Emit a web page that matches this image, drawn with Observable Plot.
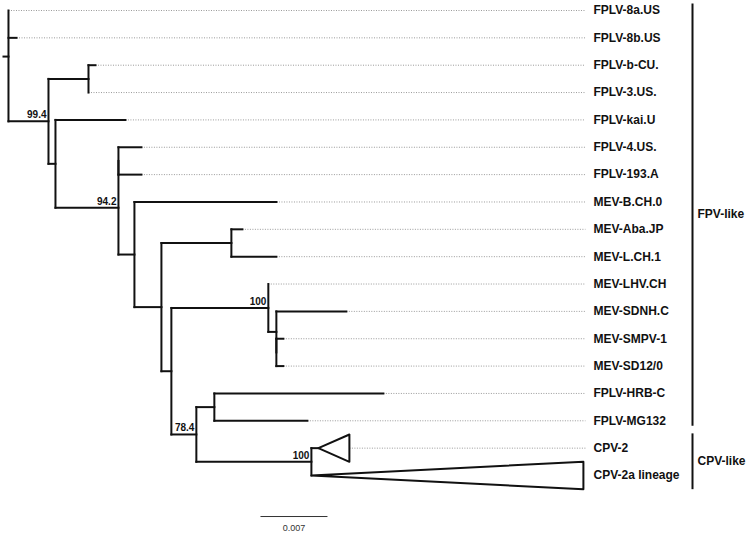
<!DOCTYPE html>
<html><head><meta charset="utf-8">
<script src="https://cdn.jsdelivr.net/npm/d3@7"></script>
<script src="https://cdn.jsdelivr.net/npm/@observablehq/plot@0.6"></script>
<style>body{margin:0;background:#fff;}</style>
</head><body><div id="chart"></div>
<script>
// Leaf order, top to bottom
const leafOrder = ["FPLV-8a.US","FPLV-8b.US","FPLV-b-CU.","FPLV-3.US.","FPLV-kai.U","FPLV-4.US.","FPLV-193.A","MEV-B.CH.0","MEV-Aba.JP","MEV-L.CH.1","MEV-LHV.CH","MEV-SDNH.C","MEV-SMPV-1","MEV-SD12/0","FPLV-HRB-C","FPLV-MG132","CPV-2","CPV-2a lineage"];
// [node, parent, branch length (substitutions/site)]
const treeEdges = [
  ["root", null, 0.00052],
  ["FPLV-8a.US", "root", 0],
  ["FPLV-8b.US", "root", 0.00084],
  ["n1", "root", 0.00418],
  ["n2", "n1", 0.00418],
  ["FPLV-b-CU.", "n2", 0.00073],
  ["FPLV-3.US.", "n2", 0],
  ["n3", "n1", 0.00073],
  ["FPLV-kai.U", "n3", 0.00731],
  ["n4", "n3", 0.00658],
  ["n5", "n4", 0],
  ["FPLV-4.US.", "n5", 0.0024],
  ["FPLV-193.A", "n5", 0.0024],
  ["n6", "n4", 0.00167],
  ["MEV-B.CH.0", "n6", 0.01484],
  ["n7", "n6", 0.00282],
  ["n8", "n7", 0.00731],
  ["MEV-Aba.JP", "n8", 0.00115],
  ["MEV-L.CH.1", "n8", 0.0047],
  ["n9", "n7", 0.00104],
  ["n10", "n9", 0.01013],
  ["MEV-LHV.CH", "n10", 0],
  ["n11", "n10", 0.00084],
  ["MEV-SDNH.C", "n11", 0.00731],
  ["n12", "n11", 0],
  ["MEV-SMPV-1", "n12", 0.00073],
  ["MEV-SD12/0", "n12", 0.00073],
  ["n13", "n9", 0.00261],
  ["n14", "n13", 0.00188],
  ["FPLV-HRB-C", "n14", 0.01766],
  ["FPLV-MG132", "n14", 0.00972],
  ["n15", "n13", 0.01202],
  ["CPV-2", "n15", 0.00073],
  ["CPV-2a lineage", "n15", 0]
];
// bootstrap supports
const supportNodes = ["n1", "n4", "n10", "n13", "n15"];
const supportValues = ["99.4", "94.2", "100", "78.4", "100"];
// collapsed clades (triangle depth)
const collapsedLeaves = ["CPV-2", "CPV-2a lineage"];
const collapsedDepths = [0.00324, 0.02842];
// clade annotations
const cladeNames = ["FPV-like", "CPV-like"];
const cladeFirst = ["FPLV-8a.US", "CPV-2"];
const cladeLast = ["FPLV-MG132", "CPV-2a lineage"];
const scaleBarValue = 0.007;
const scaleBarStart = 0.02685;

// ---- build tree ----
const nodes = new Map();
treeEdges.forEach(([name, parent, length]) => nodes.set(name, {name, parent, length, children: []}));
nodes.forEach(n => { if (n.parent) nodes.get(n.parent).children.push(n); });
const root = nodes.get("root");
(function setX(n, px) { n.x = px + n.length; n.children.forEach(c => setX(c, n.x)); })(root, 0);
(function setY(n) {
  if (!n.children.length) n.y = leafOrder.indexOf(n.name);
  else { n.children.forEach(setY); n.y = d3.mean(n.children, c => c.y); }
})(root);
const all = [...nodes.values()];
const horiz = all.filter(n => n.length > 0).map(n => ({x1: n.parent ? nodes.get(n.parent).x : 0, x2: n.x, y: n.y}));
const vert = all.filter(n => n.children.length).map(n => ({x: n.x, y1: d3.min(n.children, c => c.y), y2: d3.max(n.children, c => c.y)}));
const tris = [];
collapsedLeaves.forEach((name, i) => {
  const n = nodes.get(name), d = collapsedDepths[i];
  tris.push({id: name, x: n.x, y: n.y}, {id: name, x: n.x + d, y: n.y - 0.5}, {id: name, x: n.x + d, y: n.y + 0.5});
});
const xMax = 0.0606;
const leaves = leafOrder.map(name => {
  const n = nodes.get(name);
  const ci = collapsedLeaves.indexOf(name);
  return {name, y: n.y, tip: n.x + (ci >= 0 ? collapsedDepths[ci] : 0)};
});
const dotted = leaves.filter(l => xMax - l.tip > 0.0003).map(l => ({x1: l.tip, x2: xMax + 0.0002, y: l.y}));
const supports = supportNodes.map((id, i) => ({x: nodes.get(id).x, y: nodes.get(id).y, label: supportValues[i]}));
const clades = cladeNames.map((name, i) => {
  const a = leafOrder.indexOf(cladeFirst[i]), b = leafOrder.indexOf(cladeLast[i]);
  const coll = collapsedLeaves.includes(cladeLast[i]);
  return {name, y1: a - (coll ? 0.54 : 0.26), y2: b + (coll ? 0.5 : 0.18)};
});

const chart = Plot.plot({
  width: 750, height: 533,
  margin: 0,
  x: {axis: null, domain: [0, xMax], range: [3, 583]},
  y: {axis: null, domain: [0, 17], range: [10, 475]},
  style: {fontFamily: "'Liberation Sans', Arial, sans-serif", background: "#fff"},
  marks: [
    Plot.link(dotted, {x1: "x1", x2: "x2", y1: "y", y2: "y", stroke: "#999", strokeWidth: 1, strokeDasharray: "1,1.5"}),
    Plot.link(horiz, {x1: "x1", x2: "x2", y1: "y", y2: "y", stroke: "#111", strokeWidth: 2, strokeLinecap: "square"}),
    Plot.link(vert, {x1: "x", x2: "x", y1: "y1", y2: "y2", stroke: "#111", strokeWidth: 2, strokeLinecap: "square"}),
    Plot.line(tris, {x: "x", y: "y", z: "id", curve: "linear-closed", stroke: "#111", strokeWidth: 2, fill: "none"}),
    Plot.text(supports, {x: "x", y: "y", text: "label", textAnchor: "end", lineAnchor: "bottom", dx: -2, dy: -3, fontSize: 10, fontWeight: "bold", fill: "#111"}),
    Plot.text(leaves, {x: () => xMax, y: "y", text: "name", textAnchor: "start", dx: 10, fontSize: 12, fontWeight: "bold", fill: "#111"}),
    Plot.link(clades, {x1: () => xMax, x2: () => xMax, y1: "y1", y2: "y2", dx: 109, stroke: "#111", strokeWidth: 2}),
    Plot.text(clades, {x: () => xMax, y: d => (d.y1 + d.y2) / 2, text: "name", textAnchor: "start", dx: 114, fontSize: 12, fontWeight: "bold", fill: "#111"}),
    Plot.link([scaleBarValue], {x1: () => scaleBarStart, x2: d => scaleBarStart + d, y1: () => 18.5, y2: () => 18.5, stroke: "#333", strokeWidth: 1}),
    Plot.text([scaleBarValue], {x: d => scaleBarStart + d / 2, y: () => 18.5, text: d => String(d), dy: 11.5, fontSize: 9, fill: "#333"})
  ]
});
document.getElementById("chart").appendChild(chart);
</script>
</body></html>
